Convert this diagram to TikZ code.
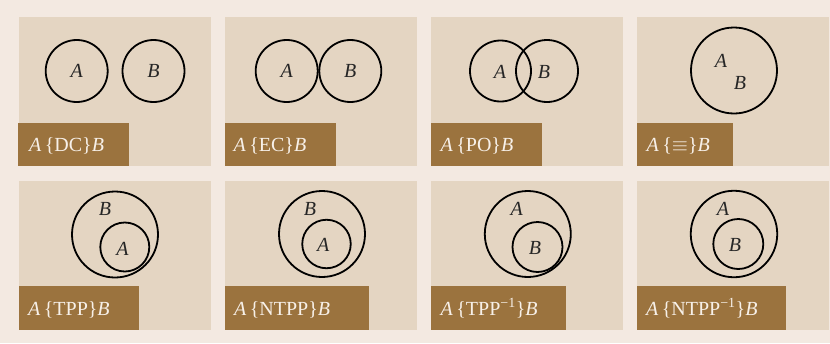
\documentclass[tikz,border=0pt]{standalone}
\usepackage{fontspec}
\setmainfont{Liberation Serif}
\definecolor{bgc}{HTML}{F3E9E1}
\definecolor{panelc}{HTML}{E4D5C2}
\definecolor{labc}{HTML}{9B733E}
\definecolor{labtext}{HTML}{F7F0E8}
\tikzset{
  panel/.style={fill=panelc},
  labbox/.style={fill=labc},
  labtxt/.style={anchor=base west, inner sep=0pt, text=labtext, font=\fontsize{20}{22}\selectfont},
  reg/.style={circle, draw=black, line width=1.8pt, inner sep=0pt, minimum size=#1},
  let/.style={inner sep=0pt, text=black!85, font=\fontsize{20}{22}\selectfont\itshape}
}
\begin{document}
\begin{tikzpicture}[x=1pt,y=-1pt]
\fill[bgc] (0,0) rectangle (830,343);
\useasboundingbox (0,0) rectangle (830,343);
% panels
\foreach \x in {19,225,431,637}{
  \fill[panel] (\x,17) rectangle ++(192,149);
  \fill[panel] (\x,181) rectangle ++(192,149);
}
% label boxes
\fill[labbox] (18,123) rectangle (129,166);
\fill[labbox] (225,123) rectangle (336,166);
\fill[labbox] (431,123) rectangle (542,166);
\fill[labbox] (637,123) rectangle (733,166);
\fill[labbox] (19,286) rectangle (139,330);
\fill[labbox] (225,286) rectangle (369,330);
\fill[labbox] (431,286) rectangle (566,330);
\fill[labbox] (637,286) rectangle (786,330);
% labels
\node[labtxt] (l1) at (29,151.5) {\textit{A}\,\{DC\}\textit{B}};
\node[labtxt] (l2) at (233.5,151.5) {\textit{A}\,\{EC\}\textit{B}};
\node[labtxt] (l3) at (440.5,151.5) {\textit{A}\,\{PO\}\textit{B}};
\node[labtxt] (l4) at (646.5,151.5) {\textit{A}\,\{$\equiv$\}\textit{B}};
\node[labtxt] (l5) at (28,315.5) {\textit{A}\,\{TPP\}\textit{B}};
\node[labtxt] (l6) at (234,315.5) {\textit{A}\,\{NTPP\}\textit{B}};
\node[labtxt] (l7) at (440.5,315.5) {\textit{A}\,\{TPP\textsuperscript{\char"2212 1}\}\textit{B}};
\node[labtxt] (l8) at (646,315.5) {\textit{A}\,\{NTPP\textsuperscript{\char"2212 1}\}\textit{B}};
% DC
\node[reg=62pt] (dca) at (76.7,71) {};
\node[reg=62pt] (dcb) at (153.5,71) {};
\node[let] at (dca) {A};
\node[let] at (dcb) {B};
% EC
\node[reg=62pt] (eca) at (286.7,71) {};
\node[reg=62pt] (ecb) at (350.3,71) {};
\node[let] at (eca) {A};
\node[let] at (ecb) {B};
% PO
\node[reg=61pt] (poa) at (500.5,71) {};
\node[reg=62pt] (pob) at (547,71) {};
\node[let] (poal) at (500,72) {A};
\node[let] (pobl) at (544,72) {B};
% EQ
\node[reg=86pt] (eq) at (734,70.5) {};
\node[let] (eqa) at (721,60.5) {A};
\node[let] (eqb) at (740,83) {B};
% TPP
\node[reg=86pt] (tppb) at (115,234.5) {};
\node[reg=49pt] (tppa) at (124.8,247) {};
\node[let] (tppbl) at (105,209) {B};
\node[let] (tppal) at (122.5,249) {A};
% NTPP
\node[reg=86pt] (ntppb) at (322,234) {};
\node[reg=48.5pt] (ntppa) at (326.5,244) {};
\node[let] (ntppbl) at (310,209) {B};
\node[let] (ntppal) at (323.3,245) {A};
% TPP^-1
\node[reg=86pt] (tiA) at (527.8,234) {};
\node[reg=50pt] (tiB) at (537.5,247) {};
\node[let] (tiAl) at (516.7,209) {A};
\node[let] (tiBl) at (535,248) {B};
% NTPP^-1
\node[reg=86.5pt] (niA) at (734,234) {};
\node[reg=50pt] (niB) at (738.3,244) {};
\node[let] (niAl) at (723,209) {A};
\node[let] (niBl) at (735,245) {B};
\end{tikzpicture}
\end{document}
